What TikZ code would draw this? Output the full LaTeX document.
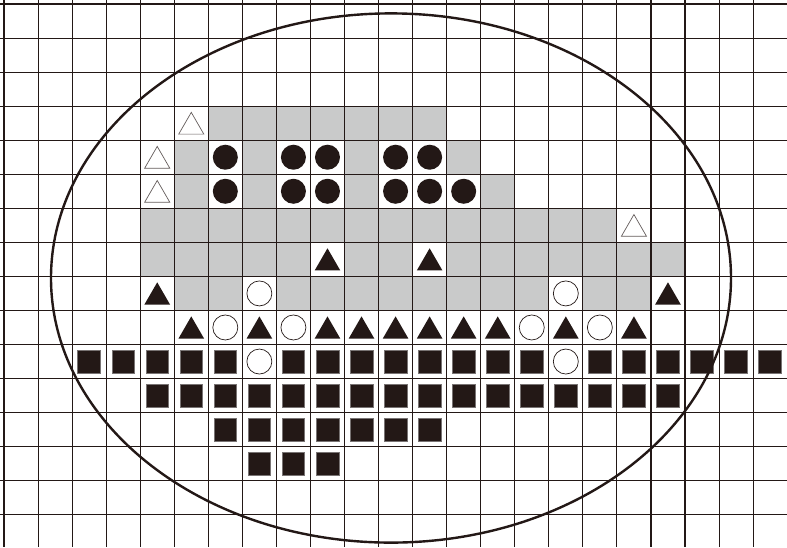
\documentclass[tikz,border=0pt]{standalone}
\usetikzlibrary{shapes.geometric}
\definecolor{ink}{RGB}{35,24,22}
\definecolor{grayc}{RGB}{201,202,202}
\definecolor{sqedge}{RGB}{120,115,115}
\tikzset{
  gridline/.style={draw=ink,line width=1.1pt},
  fcirc/.style={circle,fill=ink,minimum size=25pt,inner sep=0pt},
  ocirc/.style={circle,draw=ink,line width=0.7pt,fill=white,minimum size=25pt,inner sep=0pt},
  ftri/.style={regular polygon,regular polygon sides=3,fill=ink,minimum size=29.6pt,inner sep=0pt,yshift=-3.7pt},
  otri/.style={regular polygon,regular polygon sides=3,draw=ink!70,line width=0.7pt,minimum size=29pt,inner sep=0pt,yshift=-3.7pt},
  sqr/.style={rectangle,fill=ink,draw=sqedge,line width=0.6pt,minimum size=22.7pt,inner sep=0pt},
  ring/.style={draw=ink,line width=2.4pt}
}
\begin{document}
\begin{tikzpicture}[x=1pt,y=-1pt]
\def\cs{34.05}
\useasboundingbox (0,0) rectangle (787,547);
\fill[white] (0,0) rectangle (787,547);
% gray region
\foreach \r/\a/\b in {3/6/12,4/5/13,5/5/14,6/4/17,7/4/19,8/5/18}
  \foreach \c in {\a,...,\b}
    \fill[grayc] ({4+\cs*\c},{4+\cs*\r}) rectangle ++(\cs,\cs);
% white cells under symbols in gray region
\foreach \r/\c in {4/6,4/8,4/9,4/11,4/12,5/6,5/8,5/9,5/11,5/12,5/13,7/9,7/12,8/7,8/16}
  \fill[white] ({4+\cs*\c},{4+\cs*\r}) rectangle ++(\cs,\cs);
% grid
\foreach \k in {0,...,23}
  \draw[gridline] ({4+\cs*\k},0) -- ({4+\cs*\k},547);
\foreach \k in {0,...,16}
  \draw[gridline] (0,{4+\cs*\k}) -- (787,{4+\cs*\k});
% open triangles
\foreach \r/\c in {3/5,4/4,5/4,6/18}
  \node[otri] (ot-\r-\c) at ({4+\cs*(\c+0.5)},{4+\cs*(\r+0.5)}) {};
% filled triangles
\foreach \r/\c in {7/9,7/12,8/4,8/19,9/5,9/7,9/9,9/10,9/11,9/12,9/13,9/14,9/16,9/18}
  \node[ftri] (ft-\r-\c) at ({4+\cs*(\c+0.5)},{4+\cs*(\r+0.5)}) {};
% filled circles
\foreach \r/\c in {4/6,4/8,4/9,4/11,4/12,5/6,5/8,5/9,5/11,5/12,5/13}
  \node[fcirc] (fc-\r-\c) at ({4+\cs*(\c+0.5)},{4+\cs*(\r+0.5)}) {};
% open circles
\foreach \r/\c in {8/7,8/16,9/6,9/8,9/15,9/17,10/7,10/16}
  \node[ocirc] (oc-\r-\c) at ({4+\cs*(\c+0.5)},{4+\cs*(\r+0.5)}) {};
% squares
\foreach \c in {2,3,4,5,6,8,9,10,11,12,13,14,15,17,18,19,20,21,22}
  \node[sqr] (sq-10-\c) at ({4+\cs*(\c+0.5)},{4+\cs*10.5}) {};
\foreach \c in {4,...,19}
  \node[sqr] (sq-11-\c) at ({4+\cs*(\c+0.5)},{4+\cs*11.5}) {};
\foreach \c in {6,...,12}
  \node[sqr] (sq-12-\c) at ({4+\cs*(\c+0.5)},{4+\cs*12.5}) {};
\foreach \c in {7,8,9}
  \node[sqr] (sq-13-\c) at ({4+\cs*(\c+0.5)},{4+\cs*13.5}) {};
% ellipse
\draw[ring] (391,278) ellipse [x radius=340, y radius=264.6];
\end{tikzpicture}
\end{document}
